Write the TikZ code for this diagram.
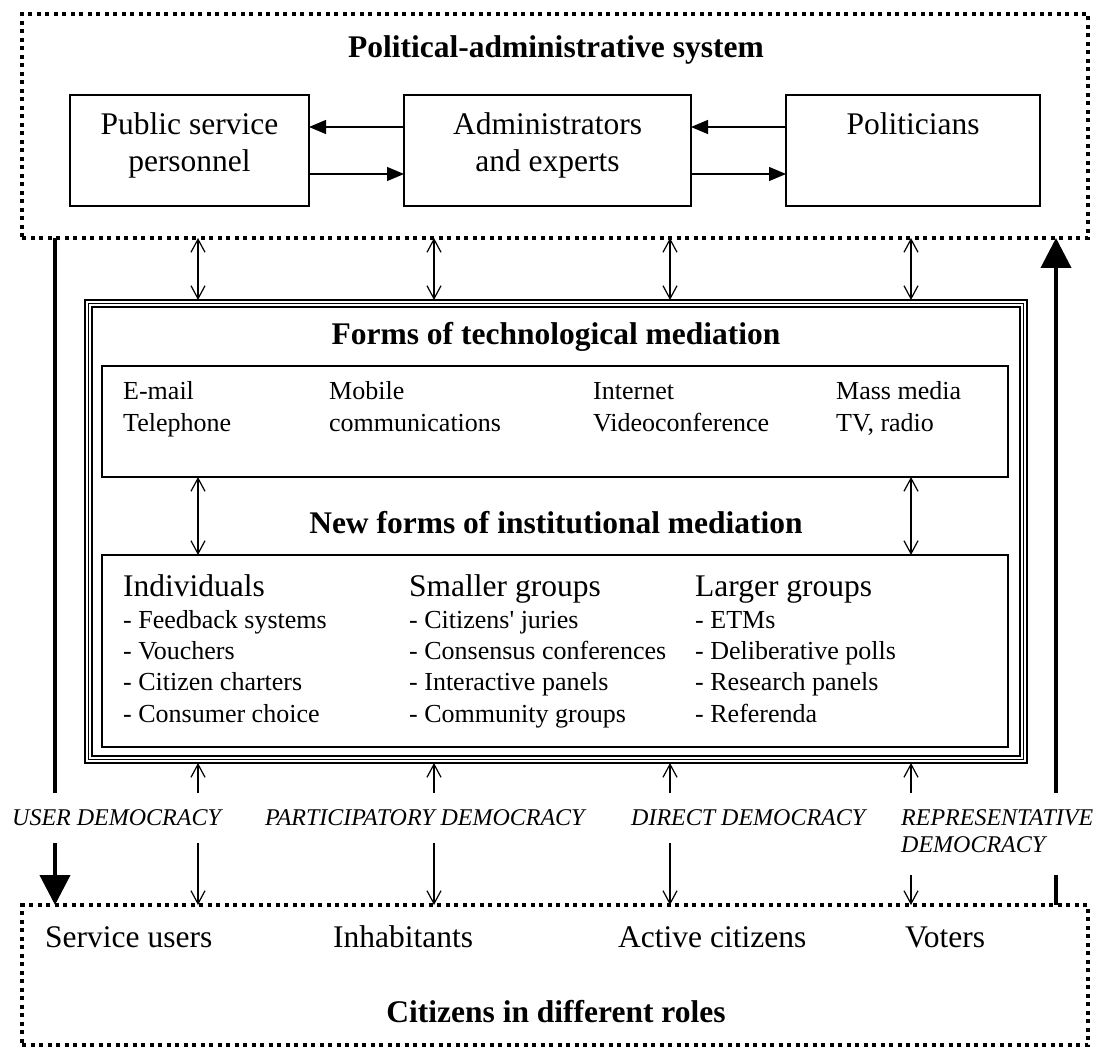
\documentclass[tikz,border=0pt]{standalone}
\usepackage{fontspec}
\setmainfont{Liberation Serif}
\usetikzlibrary{arrows.meta}

\begin{document}
\begin{tikzpicture}
    [x=1pt,y=-1pt,
     box/.style={draw,line width=1.2pt,inner sep=0pt,outer sep=0pt},
     dotbox/.style={draw,line width=4pt,dash pattern=on 4pt off 4.5pt,inner sep=0pt,outer sep=0pt},
     big/.style={inner sep=0pt,font=\fontsize{31.5}{37}\selectfont},
     title/.style={inner sep=0pt,anchor=base,font=\fontsize{31.5}{37}\selectfont\bfseries},
     small/.style={inner sep=0pt,align=left,anchor=base west,font=\fontsize{26}{31.3}\selectfont},
     demo/.style={inner sep=0pt,align=left,anchor=base west,font=\fontsize{24}{27.5}\selectfont\itshape},
     harrow/.style={line width=1.2pt,-{Triangle[length=17pt,width=14pt]}},
     varrow/.style={line width=1.2pt,{Straight Barb[length=13pt,width=14pt]}-{Straight Barb[length=13pt,width=14pt]}},
     uarrow/.style={line width=1.2pt,-{Straight Barb[length=13pt,width=14pt]}},
     thickarrow/.style={line width=4pt,-{Triangle[length=30pt,width=30pt]}}]
    \useasboundingbox (0,0) rectangle (1101,1048);

    % political-administrative system
    \node[dotbox,minimum width=1066pt,minimum height=224pt] (sys) at (555,126) {};
    \node[title] (systitle) at (556,58) {Political-administrative system};
    \node[box,minimum width=239pt,minimum height=111pt] (psp) at (189.5,150.5) {};
    \node[box,minimum width=287pt,minimum height=111pt] (adm) at (547.5,150.5) {};
    \node[box,minimum width=254pt,minimum height=111pt] (pol) at (913,150.5) {};
    % multi-line nodes sit on their last baseline
    \node[big,align=center,anchor=base] (psptxt) at (189.5,172) {Public service\\personnel};
    \node[big,align=center,anchor=base] (admtxt) at (547.5,172) {Administrators\\and experts};
    \node[big,anchor=base] (poltxt) at (913,135) {Politicians};

    \draw[harrow] ([yshift=23.5pt]adm.west) -- ([yshift=23.5pt]psp.east);
    \draw[harrow] ([yshift=-23.5pt]psp.east) -- ([yshift=-23.5pt]adm.west);
    \draw[harrow] ([yshift=23.5pt]pol.west) -- ([yshift=23.5pt]adm.east);
    \draw[harrow] ([yshift=-23.5pt]adm.east) -- ([yshift=-23.5pt]pol.west);

    % mediation frame
    \node[box,minimum width=942pt,minimum height=463pt] (frame) at (556,531.5) {};
    \draw[line width=1.2pt] ([shift={(3.5,3.5)}]frame.north west) rectangle ([shift={(-3.5,-3.5)}]frame.south east);
    \draw[line width=1.2pt] ([shift={(7,7)}]frame.north west) rectangle ([shift={(-7,-7)}]frame.south east);

    \node[title] (techtitle) at (556,345) {Forms of technological mediation};
    \node[box,minimum width=906pt,minimum height=111pt] (tech) at (555,421.5) {};
    \node[small] (t1) at (123,431.3) {E-mail\\Telephone};
    \node[small] (t2) at (329,431.3) {Mobile\\communications};
    \node[small] (t3) at (593,431.3) {Internet\\Videoconference};
    \node[small] (t4) at (836,431.3) {Mass media\\TV, radio};

    \node[title] (insttitle) at (556,533) {New forms of institutional mediation};
    \node[box,minimum width=906pt,minimum height=192pt] (inst) at (555,651) {};
    \node[big,anchor=base west] (g1) at (123,596) {Individuals};
    \node[big,anchor=base west] (g2) at (409,596) {Smaller groups};
    \node[big,anchor=base west] (g3) at (695,596) {Larger groups};
    \node[small] (l1) at (123,722) {- Feedback systems\\- Vouchers\\- Citizen charters\\- Consumer choice};
    \node[small] (l2) at (409,722) {- Citizens\textquotesingle{} juries\\- Consensus conferences\\- Interactive panels\\- Community groups};
    \node[small] (l3) at (695,722) {- ETMs\\- Deliberative polls\\- Research panels\\- Referenda};

    % citizens
    \node[dotbox,minimum width=1066pt,minimum height=140pt] (cit) at (555,975) {};
    \node[big,anchor=base west] (r1) at (45,947) {Service users};
    \node[big,anchor=base west] (r2) at (333,947) {Inhabitants};
    \node[big,anchor=base west] (r3) at (618,947) {Active citizens};
    \node[big,anchor=base west] (r4) at (905,947) {Voters};
    \node[title] (cittitle) at (556,1022) {Citizens in different roles};

    \node[demo] (ud) at (12,825) {USER DEMOCRACY};
    \node[demo] (pd) at (265,825) {PARTICIPATORY DEMOCRACY};
    \node[demo] (dd) at (631,825) {DIRECT DEMOCRACY};
    \node[demo] (rd) at (901,852.5) {REPRESENTATIVE\\DEMOCRACY};

    % arrow columns
    \coordinate (c1) at (198,793); \coordinate (d1) at (198,843);
    \coordinate (c2) at (434,793); \coordinate (d2) at (434,843);
    \coordinate (c3) at (670,793); \coordinate (d3) at (670,843);
    \coordinate (c4) at (911,793); \coordinate (d4) at (911,875);

    \draw[varrow] (sys.south -| c1) -- (frame.north -| c1);
    \draw[varrow] (sys.south -| c2) -- (frame.north -| c2);
    \draw[varrow] (sys.south -| c3) -- (frame.north -| c3);
    \draw[varrow] (sys.south -| c4) -- (frame.north -| c4);
    \draw[varrow] (tech.south -| c1) -- (inst.north -| c1);
    \draw[varrow] (tech.south -| c4) -- (inst.north -| c4);

    \draw[uarrow] (c1) -- (frame.south -| c1);
    \draw[uarrow] (c2) -- (frame.south -| c2);
    \draw[uarrow] (c3) -- (frame.south -| c3);
    \draw[uarrow] (c4) -- (frame.south -| c4);
    \draw[uarrow] (d1) -- (cit.north -| d1);
    \draw[uarrow] (d2) -- (cit.north -| d2);
    \draw[uarrow] (d3) -- (cit.north -| d3);
    \draw[uarrow] (d4) -- (cit.north -| d4);

    % thick side arrows
    \coordinate (la) at (55,793); \coordinate (lb) at (55,843);
    \coordinate (ra) at (1056,793); \coordinate (rb) at (1056,875);
    \draw[line width=4pt] (sys.south -| la) -- (la);
    \draw[thickarrow] (lb) -- (cit.north -| lb);
    \draw[line width=4pt] (cit.north -| rb) -- (rb);
    \draw[thickarrow] (ra) -- (sys.south -| ra);
\end{tikzpicture}
\end{document}
